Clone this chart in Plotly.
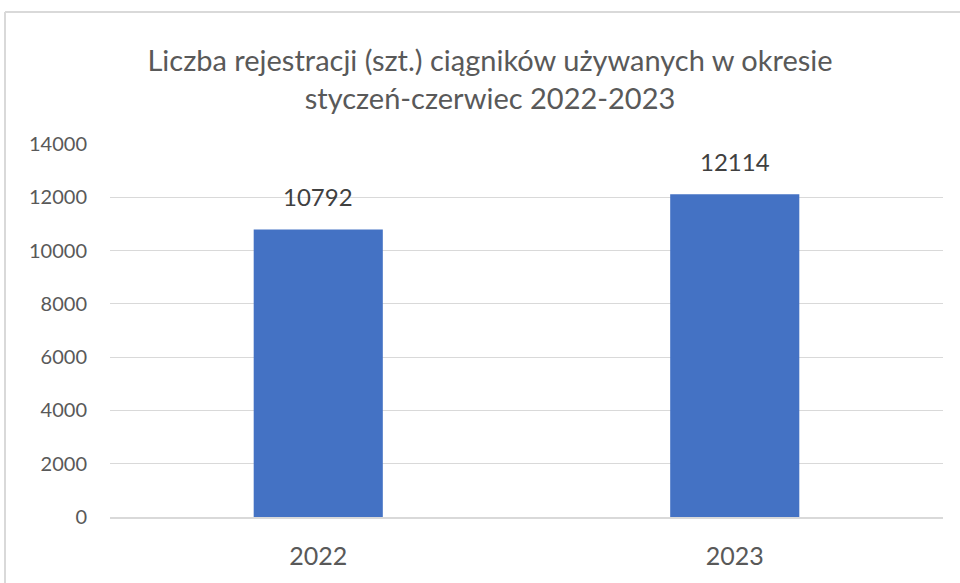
import plotly.graph_objects as go

categories = ["2022", "2023"]
values = [10792, 12114]
tick_vals = [0, 2000, 4000, 6000, 8000, 10000, 12000, 14000]
tick_text = ["0", "2000", "4000", "6000", "8000", "10000", "12000", "14000"]
title_text = "Liczba rejestracji (szt.) ciągników używanych w okresie<br>styczeń-czerwiec 2022-2023"

W, H = 960, 583
L, R, T, B = 110, 17, 144, 66
pw, ph = W - L - R, H - T - B

def px_x(x):
    return (x - L) / pw

def px_y(y):
    return (H - B - y) / ph

font_family = "Lato, Open Sans, Arial, sans-serif"

fig = go.Figure(go.Bar(
    x=categories, y=values, width=0.31,
    marker=dict(color="#4472C4", line=dict(width=0)),
    hoverinfo="x+y",
))

for i, v in enumerate(values):
    fig.add_annotation(x=i, y=v, text=str(v), showarrow=False, yanchor="bottom", yshift=16,
                       font=dict(size=24, color="#404040", family=font_family))

fig.update_layout(
    width=W, height=H,
    margin=dict(l=L, r=R, t=T, b=B),
    paper_bgcolor="white", plot_bgcolor="white",
    showlegend=False,
    title=dict(text=title_text, x=490 / W, xanchor="center", y=1 - 71 / H, yanchor="middle",
               font=dict(size=29, color="#595959", family=font_family)),
    xaxis=dict(type="category", range=[-0.5, 1.5], showline=True, linecolor="#d9d9d9", linewidth=2,
               ticks="", ticklabelstandoff=16,
               tickfont=dict(size=25, color="#595959", family=font_family)),
    yaxis=dict(range=[0, 14000], tickvals=tick_vals, ticktext=tick_text, showgrid=True,
               gridcolor="#d9d9d9", gridwidth=1, zeroline=False, showline=False, ticks="",
               ticklabelstandoff=22,
               tickfont=dict(size=20, color="#595959", family=font_family)),
    shapes=[
        dict(type="line", xref="paper", yref="paper", x0=px_x(5), x1=px_x(5), y0=px_y(12), y1=px_y(600),
             line=dict(color="#d9d9d9", width=2)),
        dict(type="line", xref="paper", yref="paper", x0=px_x(5), x1=px_x(970), y0=px_y(12), y1=px_y(12),
             line=dict(color="#d9d9d9", width=2)),
    ],
)

fig.write_html("out.html", config={"displayModeBar": False},
               post_script="document.body.style.margin='0';")
